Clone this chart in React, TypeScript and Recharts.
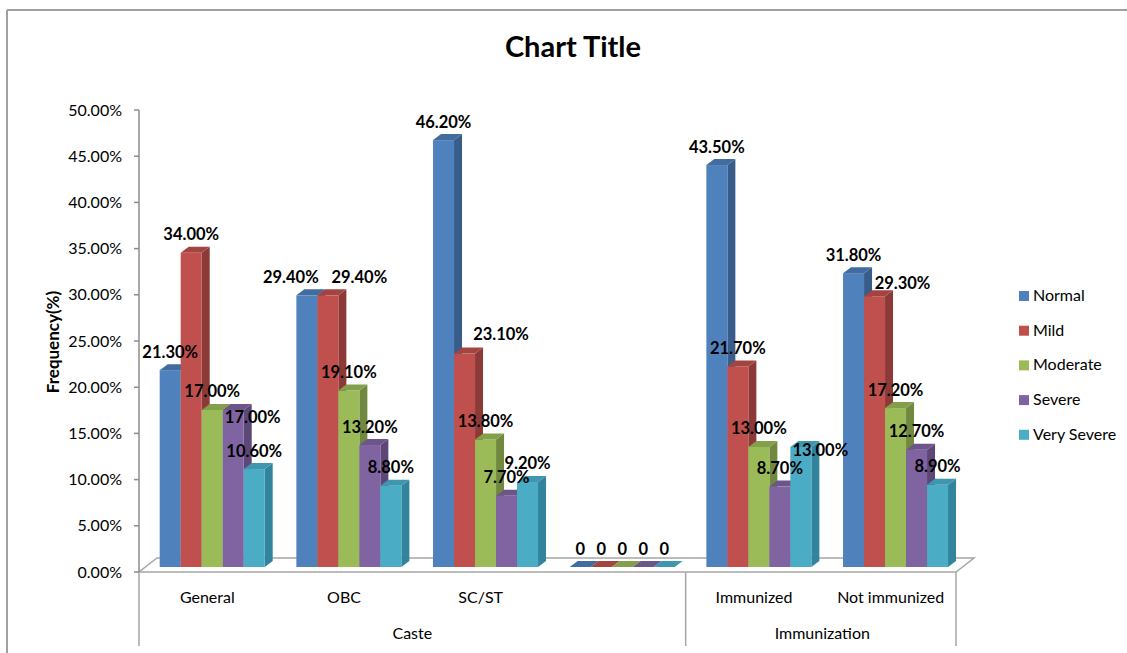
import React from 'react';
import { BarChart, Bar, XAxis, YAxis, LabelList, Customized } from 'recharts';

// ---------- data ----------
const categories = ['General', 'OBC', 'SC/ST', '', 'Immunized', 'Not immunized'];
const groups = [
  { label: 'Caste', from: 0, to: 3 },
  { label: 'Immunization', from: 4, to: 5 },
];
const seriesNames = ['Normal', 'Mild', 'Moderate', 'Severe', 'Very Severe'];
const normal = [21.3, 29.4, 46.2, 0, 43.5, 31.8];
const mild = [34.0, 29.4, 23.1, 0, 21.7, 29.3];
const moderate = [17.0, 19.1, 13.8, 0, 13.0, 17.2];
const severe = [17.0, 13.2, 7.7, 0, 8.7, 12.7];
const verySevere = [10.6, 8.8, 9.2, 0, 13.0, 8.9];
const yTicks = [0, 5, 10, 15, 20, 25, 30, 35, 40, 45, 50];

const seriesValues = [normal, mild, moderate, severe, verySevere];
const seriesKeys = ['s0', 's1', 's2', 's3', 's4'];

// ---------- styles ----------
const frontColors = ['#4F81BD', '#C0504D', '#9BBB59', '#8064A2', '#4BACC6'];
const sideColors = ['#385D8A', '#8B3A38', '#71893F', '#5C4776', '#31849B'];
const topColors = ['#416C9F', '#A34441', '#839F4B', '#6C5589', '#3E97AF'];

// label nudges (layout only): key "series-category" -> [dx, dy] in px
const labelNudges: Record<string, [number, number]> = {
  '3-0': [19.5, 25.5],
  '0-1': [-16, 0],
  '1-1': [31.5, 0],
  '1-2': [36.5, -1],
  '4-4': [19.5, 22],
  '1-5': [28, 5],
};

const data = categories.map((c, i) => {
  const row: any = { category: c };
  seriesKeys.forEach((k, s) => (row[k] = seriesValues[s][i]));
  return row;
});

// ---------- layout ----------
const W = 1127;
const H = 653;
const PLOT_LEFT = 139;
const PLOT_RIGHT = 959;
const PLOT_TOP = 110;
const PLOT_BOTTOM = 572;
const PLOT_W = PLOT_RIGHT - PLOT_LEFT;
const BAND = PLOT_W / categories.length;

const SHIFT_X = 5;
const SHIFT_Y = -5;
const DEPTH_X = 8;
const DEPTH_Y = 6;
const FONT = 'Lato, "Open Sans", sans-serif';

const makeShape = (s: number) => (props: any) => {
  const { x, y, width, height } = props;
  if (x == null || y == null) return null;
  const fx = x + SHIFT_X;
  const fy = y + SHIFT_Y;
  const h = Math.max(0, height || 0);
  const w = width;
  const side = `${fx + w},${fy} ${fx + w + DEPTH_X},${fy - DEPTH_Y} ${fx + w + DEPTH_X},${fy + h - DEPTH_Y} ${fx + w},${fy + h}`;
  const top = `${fx},${fy} ${fx + w},${fy} ${fx + w + DEPTH_X},${fy - DEPTH_Y} ${fx + DEPTH_X},${fy - DEPTH_Y}`;
  return (
    <g>
      {h > 0 && <polygon points={side} fill={sideColors[s]} />}
      {h > 0 && <rect x={fx} y={fy} width={w} height={h} fill={frontColors[s]} />}
      <polygon points={top} fill={topColors[s]} />
    </g>
  );
};

const makeLabel = (s: number) => (props: any) => {
  const vb = props.viewBox || {};
  const x = props.x != null ? props.x : vb.x;
  const y = props.y != null ? props.y : vb.y;
  const width = props.width != null ? props.width : vb.width;
  const index = props.index;
  if (x == null || y == null) return null;
  const v = Number(props.value);
  const text = v === 0 ? '0' : `${v.toFixed(2)}%`;
  const nudge = labelNudges[`${s}-${index}`] || [0, 0];
  return (
    <text
      x={x + width / 2 + SHIFT_X + nudge[0]}
      y={y + SHIFT_Y - 12.5 + nudge[1]}
      textAnchor="middle"
      fontFamily={FONT}
      fontWeight={700}
      fontSize={16.5}
      fill="#000"
    >
      {text}
    </text>
  );
};

const CategoryTick = (props: any) => {
  const { x, y, index } = props;
  const label = categories[index];
  const parts: any[] = [];
  if (label) {
    parts.push(
      <text key="l" x={x} y={y + 31} textAnchor="middle" fontFamily={FONT} fontSize={16} fill="#000">
        {label}
      </text>
    );
  }
  groups.forEach((g, gi) => {
    if (index === g.from) {
      const left = x - BAND / 2;
      parts.push(<line key={`gl${gi}`} x1={left} x2={left} y1={y} y2={y + 74} stroke="#a6a6a6" strokeWidth={1.5} />);
      const center = left + ((g.to - g.from + 1) * BAND) / 2;
      parts.push(
        <text key={`gt${gi}`} x={center} y={y + 67} textAnchor="middle" fontFamily={FONT} fontSize={16} fill="#000">
          {g.label}
        </text>
      );
    }
    if (index === g.to && index === categories.length - 1) {
      const right = x + BAND / 2 - 3;
      parts.push(<line key={`gr${gi}`} x1={right} x2={right} y1={y} y2={y + 74} stroke="#a6a6a6" strokeWidth={1.5} />);
    }
  });
  return <g>{parts}</g>;
};

const Floor = () => {
  const L = PLOT_LEFT;
  const R = PLOT_RIGHT - 3;
  const yF = PLOT_BOTTOM;
  const pts = `${L},${yF} ${R},${yF} ${R + 18},${yF - 14} ${L + 18},${yF - 14}`;
  return <polygon points={pts} fill="#ffffff" stroke="#a6a6a6" strokeWidth={1.5} />;
};

export default function App() {
  return (
    <div style={{ position: 'absolute', left: 0, top: 0, width: W, height: H, background: '#fff', overflow: 'hidden' }}>
      <BarChart
        width={W}
        height={H}
        data={data}
        margin={{ top: PLOT_TOP, right: W - PLOT_RIGHT, bottom: 0, left: 0 }}
        barCategoryGap={15.7}
        barGap={0}
      >
        <Customized component={<Floor />} />
        <YAxis
          width={PLOT_LEFT}
          domain={[0, 50]}
          ticks={yTicks}
          interval={0}
          tickFormatter={(v: number) => `${v.toFixed(2)}%`}
          axisLine={{ stroke: '#8c8c8c', strokeWidth: 1.5 }}
          tickLine={{ stroke: '#8c8c8c', strokeWidth: 1.5 }}
          tickSize={5}
          tickMargin={12}
          tick={{ fontFamily: FONT, fontSize: 16, fill: '#000' }}
        />
        <XAxis
          dataKey="category"
          height={H - PLOT_BOTTOM}
          interval={0}
          tickLine={false}
          tickSize={0}
          tickMargin={0}
          axisLine={false}
          tick={<CategoryTick />}
        />
        {seriesKeys.map((k, s) => (
          <Bar key={k} dataKey={k} name={seriesNames[s]} fill={frontColors[s]} isAnimationActive={false} shape={makeShape(s)}>
            <LabelList dataKey={k} content={makeLabel(s)} />
          </Bar>
        ))}
      </BarChart>
      <svg width={W} height={H} style={{ position: 'absolute', left: 0, top: 0, pointerEvents: 'none' }}>
        <line x1={7} y1={10} x2={W} y2={10} stroke="#a0a0a0" strokeWidth={2} />
        <line x1={7} y1={10} x2={7} y2={H} stroke="#a0a0a0" strokeWidth={2} />
        <text x={573} y={57} textAnchor="middle" fontFamily={FONT} fontWeight={700} fontSize={29} fill="#000">
          Chart Title
        </text>
        <text
          x={0}
          y={0}
          transform="translate(59,342) rotate(-90)"
          textAnchor="middle"
          fontFamily={FONT}
          fontWeight={700}
          fontSize={17}
          fill="#000"
        >
          Frequency(%)
        </text>
        {seriesNames.map((n, i) => (
          <g key={n}>
            <rect x={1019} y={291 + i * 34.7} width={10} height={10} fill={frontColors[i]} />
            <text x={1033} y={301 + i * 34.7} fontFamily={FONT} fontSize={16} fill="#000">
              {n}
            </text>
          </g>
        ))}
      </svg>
    </div>
  );
}
